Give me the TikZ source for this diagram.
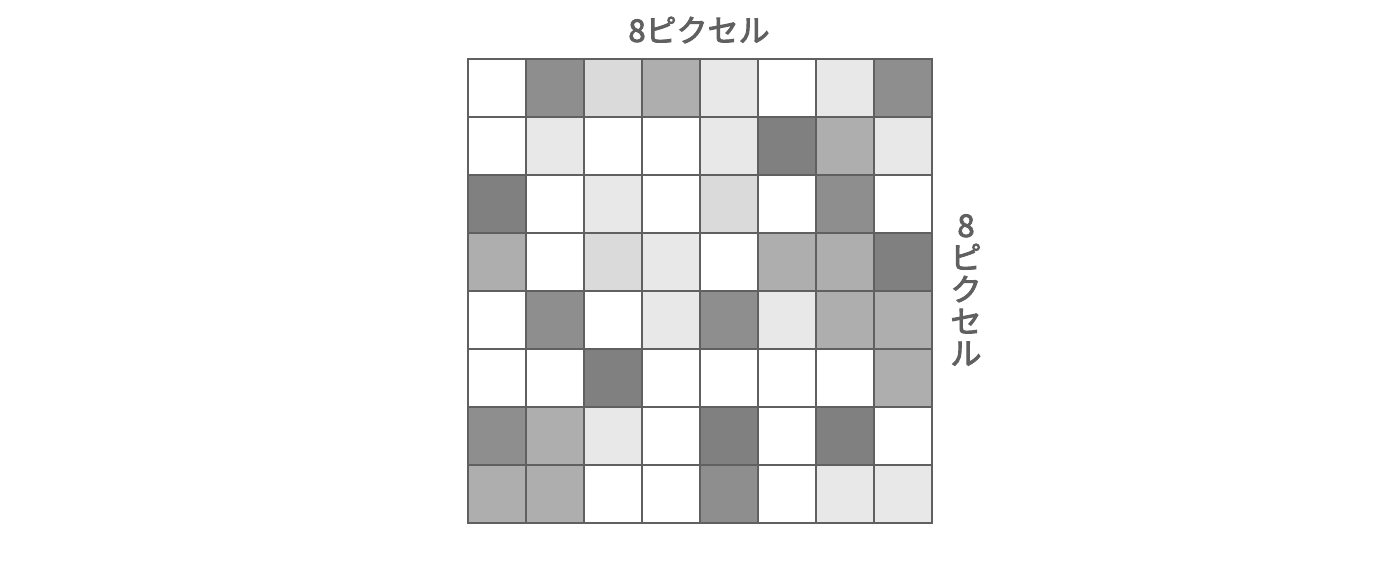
\documentclass[tikz,border=0pt]{standalone}
\usepackage{fontspec}
\newfontfamily\jpfont{Noto Sans CJK JP}[FakeBold=3]
\definecolor{pxW}{HTML}{FFFFFF}
\definecolor{pxA}{HTML}{E8E8E8}
\definecolor{pxB}{HTML}{DADADA}
\definecolor{pxC}{HTML}{AEAEAE}
\definecolor{pxD}{HTML}{8E8E8E}
\definecolor{pxE}{HTML}{808080}
\definecolor{gridgray}{HTML}{606060}

\begin{document}
\begin{tikzpicture}[
    x=1pt, y=-1pt,
    pixel/.style={rectangle, draw=gridgray, line width=2pt, minimum size=58pt, inner sep=0pt, outer sep=0pt},
    lbl/.style={text=gridgray, font=\jpfont\fontsize{31}{32}\selectfont, align=center, inner sep=0pt}
]
  \useasboundingbox (0,0) rectangle (1400,561);

  % 8x8 pixel grid, one row of shades per entry
  \foreach \row [count=\r from 0] in {
      {W,D,B,C,A,W,A,D},
      {W,A,W,W,A,E,C,A},
      {E,W,A,W,B,W,D,W},
      {C,W,B,A,W,C,C,E},
      {W,D,W,A,D,A,C,C},
      {W,W,E,W,W,W,W,C},
      {D,C,A,W,E,W,E,W},
      {C,C,W,W,D,W,A,A}} {
    \foreach \c [count=\k from 0] in \row {
      \node[pixel, fill=px\c] (p\r\k) at (497+58*\k, 88+58*\r) {};
    }
  }

  % Size labels
  \node[lbl] (toplabel) at (699,30) {8ピクセル};
  \node[lbl] (sidelabel) at (966,290) {8\\ピ\\ク\\セ\\ル};
\end{tikzpicture}
\end{document}
